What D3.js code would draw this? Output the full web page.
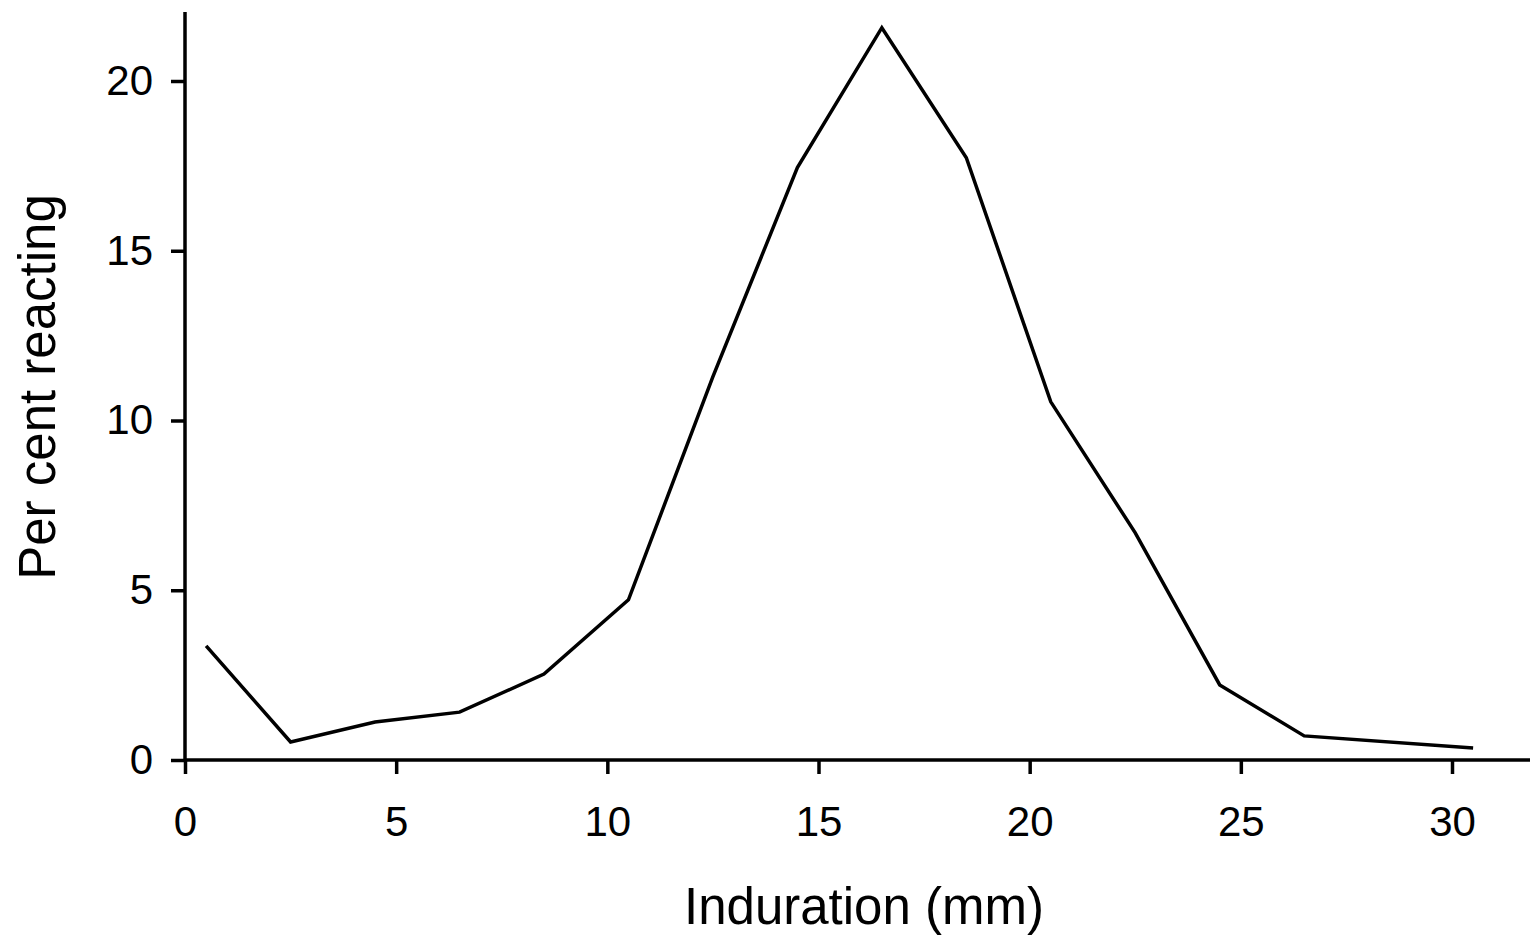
<!DOCTYPE html>
<html>
<head>
<meta charset="utf-8">
<script src="https://cdn.jsdelivr.net/npm/d3@7"></script>
<style>
  body { margin: 0; background: #fff; }
  text { font-family: "Liberation Sans", Arial, sans-serif; fill: #000; }
</style>
</head>
<body>
<script>
var width = 1531,
    height = 938;

// induration (mm) midpoints and per cent reacting
var induration = [0.5, 2.5, 4.5, 6.5, 8.5, 10.5, 12.5, 14.5, 16.5, 18.5, 20.5, 22.5, 24.5, 26.5, 30.5];
var percent = [3.36, 0.53, 1.12, 1.41, 2.53, 4.72, 11.29, 17.45, 21.57, 17.74, 10.55, 6.69, 2.21, 0.71, 0.35];
var xTicks = [0, 5, 10, 15, 20, 25, 30];
var yTicks = [0, 5, 10, 15, 20];

var svg = d3.select("body").append("svg")
    .attr("width", width)
    .attr("height", height);

var x = d3.scaleLinear().domain([0, 30]).range([185, 1452]);
var y = d3.scaleLinear().domain([0, 20]).range([760, 81]);

var xAxis = svg.append("g")
    .attr("transform", "translate(0," + y(0) + ")")
    .call(d3.axisBottom(x).tickValues(xTicks).tickSize(14).tickPadding(32).tickSizeOuter(0));
xAxis.select(".domain").attr("d", "M" + x(0) + ",0H1530");

var yAxis = svg.append("g")
    .attr("transform", "translate(" + x(0) + ",0)")
    .call(d3.axisLeft(y).tickValues(yTicks).tickSize(14).tickPadding(18).tickSizeOuter(0));
yAxis.select(".domain").attr("d", "M0,12V" + y(0));

svg.selectAll(".domain, .tick line")
    .attr("stroke", "#000")
    .attr("stroke-width", 3.5);
svg.selectAll(".tick text")
    .style("font-size", "42px")
    .style("font-family", "'Liberation Sans', Arial, sans-serif");

var line = d3.line()
    .x(function(d, i) { return x(induration[i]); })
    .y(function(d) { return y(d); });

svg.append("path")
    .datum(percent)
    .attr("fill", "none")
    .attr("stroke", "#000")
    .attr("stroke-width", 3.5)
    .attr("stroke-linejoin", "miter")
    .attr("d", line);

svg.append("text")
    .attr("x", 864)
    .attr("y", 924)
    .attr("text-anchor", "middle")
    .style("font-size", "51px")
    .text("Induration (mm)");

svg.append("text")
    .attr("transform", "translate(55,387) rotate(-90)")
    .attr("text-anchor", "middle")
    .style("font-size", "51px")
    .text("Per cent reacting");
</script>
</body>
</html>
